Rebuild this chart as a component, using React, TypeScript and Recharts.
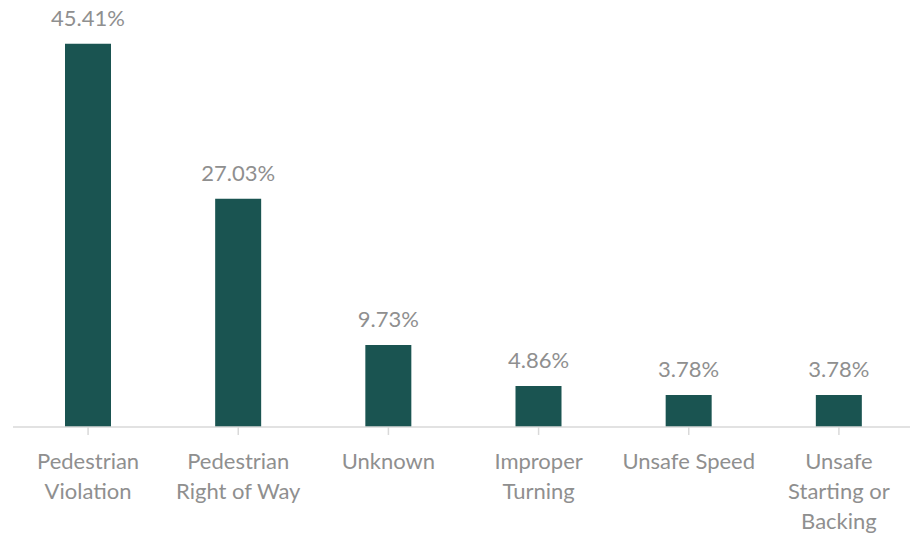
import React from "react";
import { BarChart, Bar, XAxis, YAxis, LabelList } from "recharts";

const categories = [
  "Pedestrian\nViolation",
  "Pedestrian\nRight of Way",
  "Unknown",
  "Improper\nTurning",
  "Unsafe Speed",
  "Unsafe\nStarting or\nBacking",
];
const values = [45.41, 27.03, 9.73, 4.86, 3.78, 3.78];

const data = categories.map((c, i) => ({ name: c, value: values[i] }));

const FONT = "Lato, 'Open Sans', sans-serif";
const GREY = "#8f8f8f";

const Tick = (props: any) => {
  const { x, y, payload } = props;
  const lines = String(payload.value).split("\n");
  return (
    <g transform={`translate(${x},${y})`}>
      {lines.map((l, i) => (
        <text
          key={i}
          x={0}
          y={32 + i * 30}
          textAnchor="middle"
          fill={GREY}
          fontSize={22}
          fontFamily={FONT}
        >
          {l}
        </text>
      ))}
    </g>
  );
};

export default function App() {
  return (
    <div style={{ position: "fixed", left: 0, top: 0, width: 910, height: 535, overflow: "hidden", background: "#fff" }}>
      <BarChart
        width={920}
        height={535}
        data={data}
        margin={{ top: 5, right: 6, bottom: 0, left: 13 }}
        barSize={46}
      >
        <XAxis
          dataKey="name"
          interval={0}
          height={108}
          axisLine={{ stroke: "#d9d9d9", strokeWidth: 1.5 }}
          tickLine={{ stroke: "#d9d9d9", strokeWidth: 1.5 }}
          tickSize={8}
          tick={<Tick />}
        />
        <YAxis hide domain={[0, 50]} />
        <Bar dataKey="value" fill="#1a5451" isAnimationActive={false}>
          <LabelList
            dataKey="value"
            position="top"
            offset={18}
            formatter={(v: any) => `${Number(v).toFixed(2)}%`}
            fill={GREY}
            fontSize={22}
            fontFamily={FONT}
          />
        </Bar>
      </BarChart>
    </div>
  );
}
